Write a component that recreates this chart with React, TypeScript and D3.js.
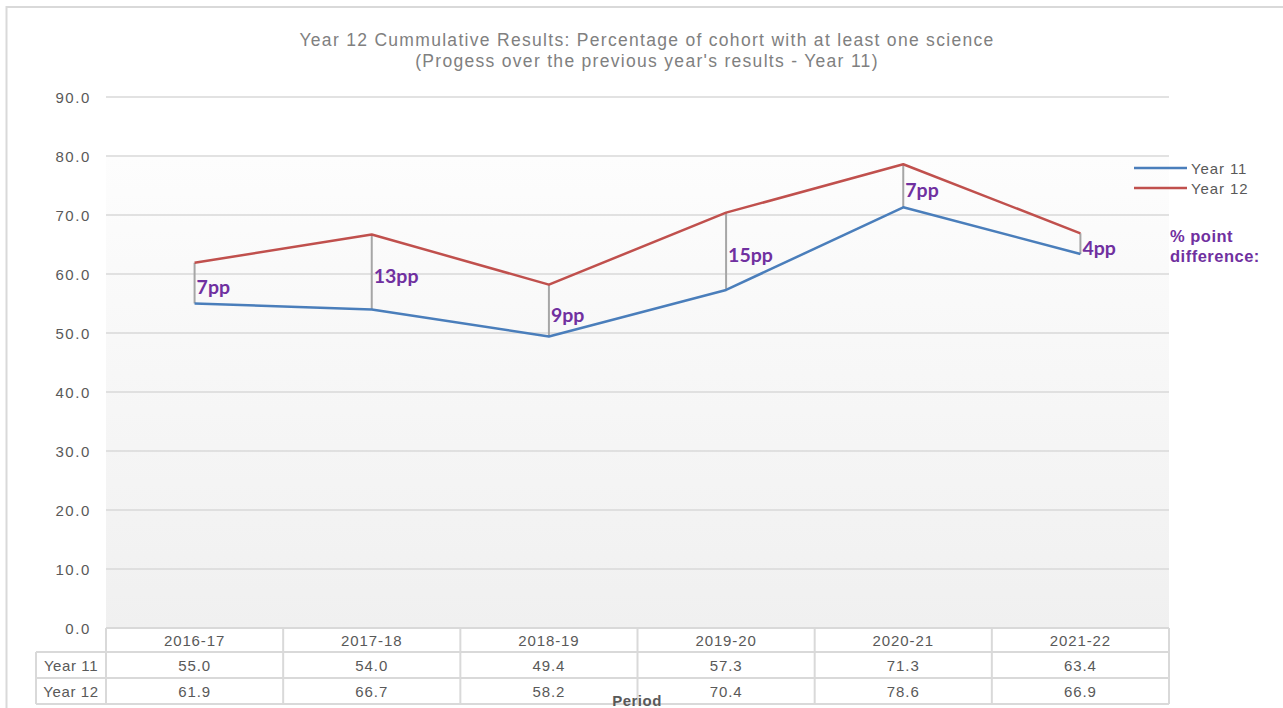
import React from "react";
import * as d3 from "d3";

const categories = ["2016-17", "2017-18", "2018-19", "2019-20", "2020-21", "2021-22"];
const year11 = [55.0, 54.0, 49.4, 57.3, 71.3, 63.4];
const year12 = [61.9, 66.7, 58.2, 70.4, 78.6, 66.9];
const diffLabels = ["7pp", "13pp", "9pp", "15pp", "7pp", "4pp"];
const yTicks = [0, 10, 20, 30, 40, 50, 60, 70, 80, 90];
const seriesNames = ["Year 11", "Year 12"];
const colors = ["#4a7ebb", "#c0504d"];

const W = 1283, H = 708;
const left = 106, right = 1169, top = 97, bottom = 628;

export default function App() {
  const x = d3.scaleBand<string>().domain(categories).range([left, right]).padding(0);
  const y = d3.scaleLinear().domain([0, 90]).range([bottom, top]);
  const cx = (c: string) => (x(c) as number) + x.bandwidth() / 2;
  const line = d3.line<number>().x((_, i) => cx(categories[i])).y((d) => y(d));
  const series = [year11, year12];
  const font = "Liberation Sans, Arial, sans-serif";
  const rowH = [628, 652, 678, 704];
  const tableLeft = 36;

  return (
    <svg width={W} height={H} style={{ position: "absolute", left: 0, top: 0, background: "#fff" }}>
      <defs>
        <linearGradient id="bg" x1="0" y1="0" x2="0" y2="1">
          <stop offset="0" stopColor="#fdfdfd" />
          <stop offset="1" stopColor="#f0f0f0" />
        </linearGradient>
      </defs>
      <rect x={0} y={0} width={W} height={H} fill="#fff" />
      <rect x={6.5} y={7} width={1300} height={720} fill="none" stroke="#d9d9d9" strokeWidth={2} />
      <rect x={left} y={y(80)} width={right - left} height={y(0) - y(80)} fill="url(#bg)" />
      <text x={647} y={46} textAnchor="middle" fontFamily={font} fontSize={17.5} letterSpacing={1.3} fill="#808080">
        Year 12 Cummulative Results: Percentage of cohort with at least one science
      </text>
      <text x={647} y={67} textAnchor="middle" fontFamily={font} fontSize={17.5} letterSpacing={1.3} fill="#808080">
        (Progess over the previous year's results - Year 11)
      </text>
      {yTicks.map((t) => (
        <g key={t}>
          {t > 0 && <line x1={left} x2={right} y1={y(t)} y2={y(t)} stroke="#d9d9d9" strokeWidth={1.5} />}
          <text x={91} y={y(t) + 5.5} textAnchor="end" fontFamily={font} fontSize={15} letterSpacing={1.6} fill="#595959">
            {t.toFixed(1)}
          </text>
        </g>
      ))}
      {categories.map((c, i) => (
        <line key={c} x1={cx(c)} x2={cx(c)} y1={y(year12[i])} y2={y(year11[i])} stroke="#a6a6a6" strokeWidth={2} />
      ))}
      {series.map((s, k) => (
        <path key={k} d={line(s) as string} fill="none" stroke={colors[k]} strokeWidth={2.5} strokeLinejoin="round" />
      ))}
      {categories.map((c, i) => (
        <text key={c} x={cx(c) + 2} y={y((year11[i] + year12[i]) / 2) + 11} fontFamily="Lato, sans-serif" fontWeight="bold" fontSize={19.5} fill="#7030a0">
          {diffLabels[i]}
        </text>
      ))}
      {seriesNames.map((n, k) => (
        <g key={n}>
          <line x1={1134} x2={1187} y1={168 + k * 20} y2={168 + k * 20} stroke={colors[k]} strokeWidth={2.5} />
          <text x={1191} y={173.5 + k * 20} fontFamily={font} fontSize={15} letterSpacing={0.9} fill="#595959">{n}</text>
        </g>
      ))}
      <text x={1170} y={242} fontFamily={font} fontWeight="bold" fontSize={16.5} letterSpacing={0.5} fill="#7030a0">% point</text>
      <text x={1170} y={262} fontFamily={font} fontWeight="bold" fontSize={16.5} letterSpacing={0.5} fill="#7030a0">difference:</text>
      {/* table */}
      <g stroke="#d9d9d9" strokeWidth={2} fill="none">
        <line x1={left} x2={right} y1={rowH[0]} y2={rowH[0]} />
        <line x1={tableLeft} x2={right} y1={rowH[1]} y2={rowH[1]} />
        <line x1={tableLeft} x2={right} y1={rowH[2]} y2={rowH[2]} />
        <line x1={tableLeft} x2={right} y1={rowH[3]} y2={rowH[3]} />
        <line x1={tableLeft} x2={tableLeft} y1={rowH[1]} y2={rowH[3]} />
        {categories.map((c) => (
          <line key={c} x1={x(c) as number} x2={x(c) as number} y1={rowH[0]} y2={rowH[3]} />
        ))}
        <line x1={right} x2={right} y1={rowH[0]} y2={rowH[3]} />
      </g>
      {categories.map((c, i) => (
        <g key={c} fontFamily={font} fontSize={15} letterSpacing={0.9} fill="#595959" textAnchor="middle">
          <text x={cx(c)} y={645.5}>{c}</text>
          <text x={cx(c)} y={670.5}>{year11[i].toFixed(1)}</text>
          <text x={cx(c)} y={696.5}>{year12[i].toFixed(1)}</text>
        </g>
      ))}
      {seriesNames.map((n, k) => (
        <text key={n} x={71} y={670.5 + k * 26} textAnchor="middle" fontFamily={font} fontSize={15} letterSpacing={0.6} fill="#595959">{n}</text>
      ))}
      <text x={637} y={706} textAnchor="middle" fontFamily={font} fontWeight="bold" fontSize={15} letterSpacing={0.5} fill="#595959">Period</text>
    </svg>
  );
}
